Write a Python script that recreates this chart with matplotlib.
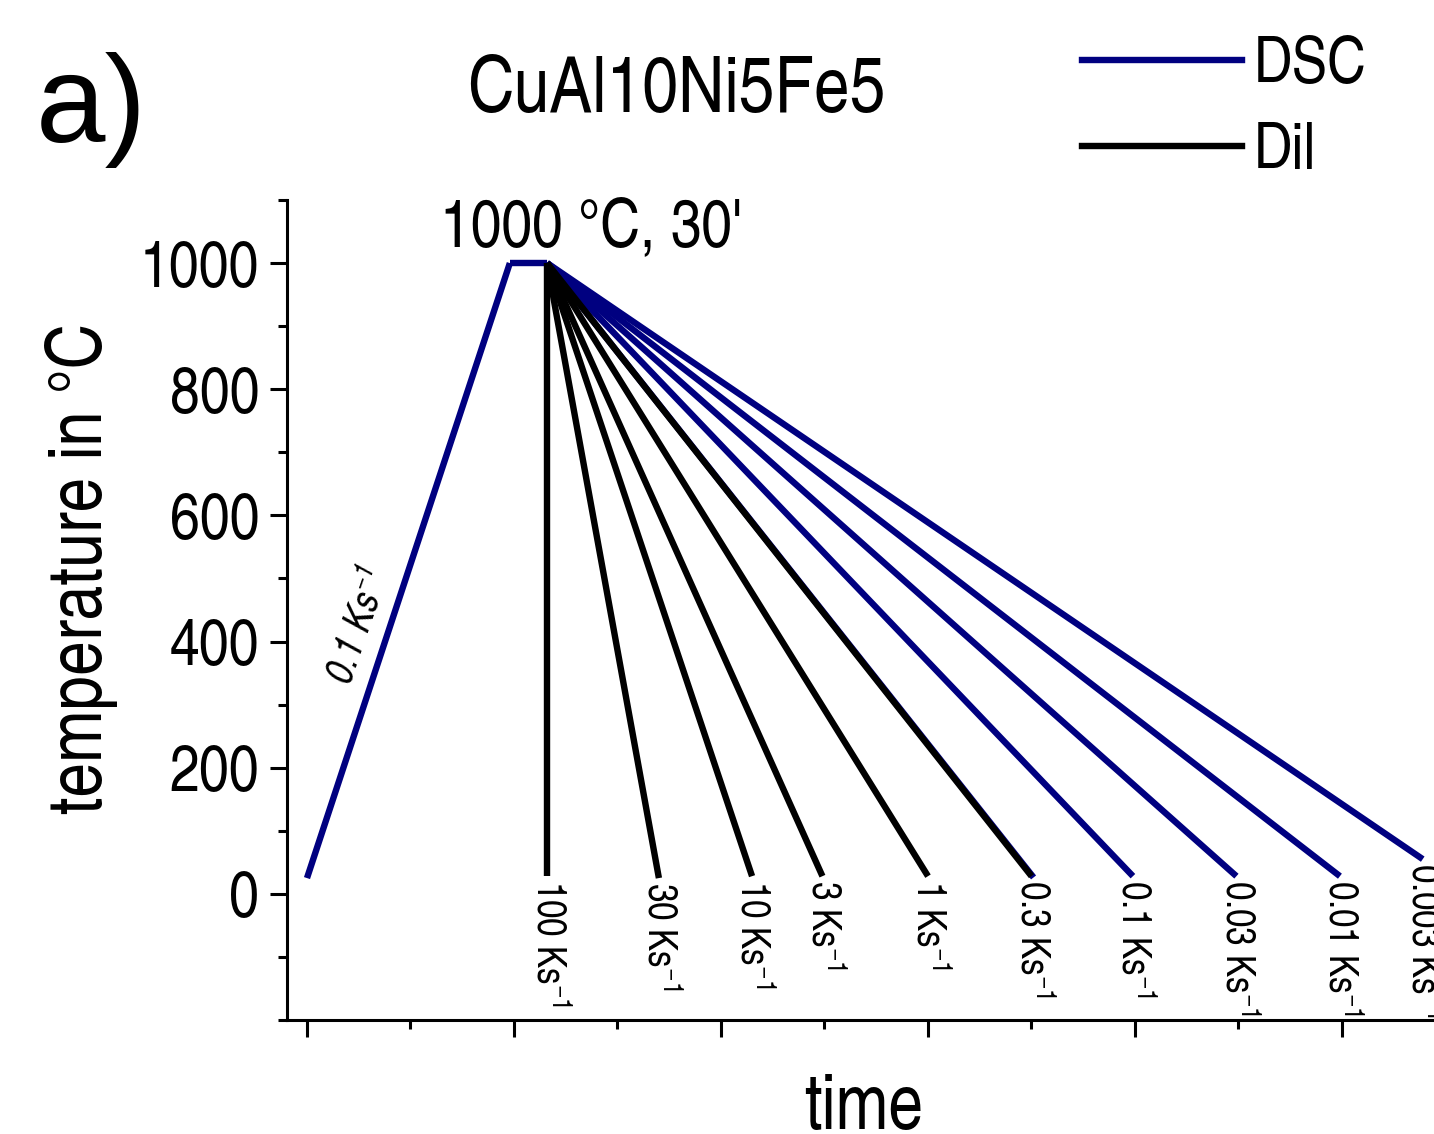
import matplotlib
matplotlib.use("Agg")
import matplotlib.pyplot as plt
from matplotlib.ticker import MultipleLocator, NullFormatter
from matplotlib.lines import Line2D

FONT = 'TeX Gyre Heros Cn'
plt.rcParams['font.family'] = [FONT, 'Roboto Condensed', 'DejaVu Sans']
plt.rcParams['mathtext.fontset'] = 'custom'
plt.rcParams['mathtext.rm'] = FONT
plt.rcParams['mathtext.it'] = FONT + ':italic'
plt.rcParams['mathtext.default'] = 'regular'

# ---- data ----
heat_time = [0.0, 0.98]
heat_temp = [25, 1000]
hold_time = [0.98, 1.16]
hold_temp = [1000, 1000]
cool_start_time = 1.16
cool_start_temp = 1000

rate_labels = ["100", "30", "10", "3", "1", "0.3", "0.1", "0.03", "0.01", "0.003"]
end_times = [1.16, 1.70, 2.15, 2.49, 3.00, 3.50, 3.99, 4.49, 4.99, 5.39]
end_temps = [28, 25, 28, 28, 28, 28, 28, 28, 28, 55]
methods = ["Dil", "Dil", "Dil", "Dil", "Dil", "Dil", "DSC", "DSC", "DSC", "DSC"]
# the 0.3 K/s cooling was also run in the DSC (drawn under the Dil line)
dsc_extra_end_time = 3.51
dsc_extra_end_temp = 26

colors = {"DSC": "#000080", "Dil": "#000000"}
LW = 4.6

fig = plt.figure(figsize=(14.34, 11.34), dpi=100)
W, H = 1434, 1134
left_px, right_px, top_px, bot_px = 287, 1445.5, 200, 1020
ax = fig.add_axes([left_px / W, 1 - bot_px / H, (right_px - left_px) / W, (bot_px - top_px) / H])
ax.set_xlim(-0.0966, 5.5)
ax.set_ylim(-200, 1100)

# heating + hold
ax.plot(heat_time, heat_temp, color=colors["DSC"], lw=LW, solid_capstyle='butt', zorder=3)
ax.plot(hold_time, hold_temp, color=colors["DSC"], lw=LW, solid_capstyle='butt', zorder=3)

# extra DSC 0.3 line (underneath)
ax.plot([cool_start_time, dsc_extra_end_time], [cool_start_temp, dsc_extra_end_temp],
        color=colors["DSC"], lw=LW, solid_capstyle='butt', zorder=2)

for i in range(len(rate_labels)):
    ax.plot([cool_start_time, end_times[i]], [cool_start_temp, end_temps[i]],
            color=colors[methods[i]], lw=LW, solid_capstyle='butt',
            zorder=3 if methods[i] == "DSC" else 4)

for i, r in enumerate(rate_labels):
    ax.annotate(r + " Ks$^{-1}$", xy=(end_times[i], end_temps[i]), xytext=(1, -3),
                textcoords='offset points', rotation=270, ha='center', va='top',
                fontsize=29, annotation_clip=False)

ax.text(0.25, 425, "0.1 Ks$^{-1}$", rotation=71, fontsize=29, style='italic',
        ha='center', va='center', rotation_mode='anchor')
ax.text(1.372, 1027, "1000 °C, 30'", fontsize=48.5, ha='center', va='baseline')

# axes styling
for s in ['top', 'right']:
    ax.spines[s].set_visible(False)
for s in ['left', 'bottom']:
    ax.spines[s].set_linewidth(2.2)
ax.xaxis.set_major_locator(MultipleLocator(1))
ax.xaxis.set_minor_locator(MultipleLocator(0.5))
ax.xaxis.set_major_formatter(NullFormatter())
ax.yaxis.set_minor_locator(MultipleLocator(100))
ax.set_yticks([0, 200, 400, 600, 800, 1000])
ax.tick_params(axis='both', which='major', length=12, width=2.2, direction='out', labelsize=47, pad=8)
ax.tick_params(axis='both', which='minor', length=6.5, width=2.2, direction='out')

fig.text(82 / W, 1 - 568 / H, "temperature in °C", fontsize=55, rotation=90, ha='center', va='center')
fig.text(864 / W, 1 - 1129 / H, "time", fontsize=55.5, ha='center', va='baseline')
fig.text(676 / W, 1 - 112 / H, "CuAl10Ni5Fe5", fontsize=56.5, ha='center', va='baseline')
fig.text(36 / W, 1 - 142 / H, "a)", fontsize=90, ha='left', va='baseline',
         family=['Liberation Sans', 'DejaVu Sans'])

handles = [Line2D([], [], color=colors["DSC"], lw=LW), Line2D([], [], color=colors["Dil"], lw=LW)]
fig.legend(handles, ["DSC", "Dil"], loc='upper left', bbox_to_anchor=(1082 / W, 1 - 36 / H),
           frameon=False, fontsize=47, handlelength=2.45, handletextpad=0.18,
           labelspacing=0.40, borderpad=0, borderaxespad=0)

fig.savefig("out.png", dpi=100)
